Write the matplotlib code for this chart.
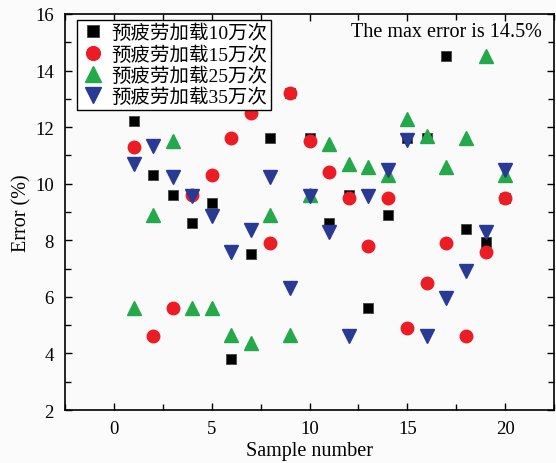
import matplotlib
matplotlib.use("Agg")
import matplotlib.pyplot as plt
from matplotlib.ticker import MultipleLocator

plt.rcParams['font.family'] = ['Liberation Serif', 'Noto Sans CJK SC']

samples = list(range(1, 21))
err_10w = [12.2, 10.3, 9.6, 8.6, 9.33, 3.8, 7.5, 11.6, 13.2, 11.6,
           8.6, 9.6, 5.6, 8.9, 11.6, 11.6, 14.5, 8.4, 7.95, 9.5]
err_15w = [11.3, 4.6, 5.6, 9.6, 10.3, 11.6, 12.5, 7.9, 13.2, 11.5,
           10.4, 9.5, 7.8, 9.5, 4.9, 6.5, 7.9, 4.6, 7.6, 9.5]
err_25w = [5.6, 8.9, 11.5, 5.6, 5.6, 4.65, 4.37, 8.9, 4.65, 9.6,
           11.4, 10.7, 10.6, 10.3, 12.3, 11.7, 10.6, 11.6, 14.5, 10.3]
err_35w = [10.7, 11.35, 10.25, 9.55, 8.85, 7.57, 8.35, 10.25, 6.3, 9.55,
           8.3, 4.6, 9.55, 10.5, 11.55, 4.6, 5.95, 6.9, 8.3, 10.5]
labels = ["预疲劳加载10万次", "预疲劳加载15万次", "预疲劳加载25万次", "预疲劳加载35万次"]

fig = plt.figure(figsize=(5.56, 4.64), dpi=100, facecolor='#fbfbfb')
ax = fig.add_axes([0.117, 0.1142, 0.8794, 0.8535])
ax.set_facecolor('#fafafa')

ax.plot(samples, err_10w, 's', color='black', mec='#444444', mew=0.6, ms=7.8, label=labels[0])
ax.plot(samples, err_15w, 'o', color='#ec1c24', mec='#ec1c24', ms=9, label=labels[1])
ax.plot(samples, err_25w, '^', color='#24a94a', mec='#24a94a', ms=10, label=labels[2])
ax.plot(samples, err_35w, 'v', color='#283a94', mec='#283a94', ms=10, label=labels[3])

ax.set_xlim(-2.5, 22.5)
ax.set_ylim(2, 16)
ax.xaxis.set_major_locator(MultipleLocator(5))
ax.xaxis.set_minor_locator(MultipleLocator(2.5))
ax.yaxis.set_major_locator(MultipleLocator(2))
ax.yaxis.set_minor_locator(MultipleLocator(1))
ax.tick_params(which='both', direction='in', top=True, right=True, labelsize=13.5, width=1)
ax.tick_params(axis='x', pad=7)
ax.tick_params(axis='y', pad=8)
ax.tick_params(which='major', length=5)
ax.tick_params(which='minor', length=4)
for s in ax.spines.values():
    s.set_linewidth(1.2)

ax.set_xlabel("Sample number", fontsize=14.5, labelpad=3)
ax.set_ylabel("Error (%)", fontsize=14.5, labelpad=3)

ax.text(0.975, 0.955, "The max error is 14.5%", transform=ax.transAxes,
        ha='right', va='center', fontsize=14.5)

leg = ax.legend(loc='upper left', bbox_to_anchor=(0.025, 0.985), fontsize=14,
                frameon=True, fancybox=False, borderpad=0.2, labelspacing=0.15,
                handletextpad=0.35, handlelength=1.2, borderaxespad=0.0,
                markerscale=1.1)
leg.get_frame().set_edgecolor('black')
leg.get_frame().set_linewidth(1.0)
leg.get_frame().set_facecolor('white')
leg.get_frame().set_alpha(1)

fig.savefig("out.png", dpi=100, facecolor=fig.get_facecolor())
